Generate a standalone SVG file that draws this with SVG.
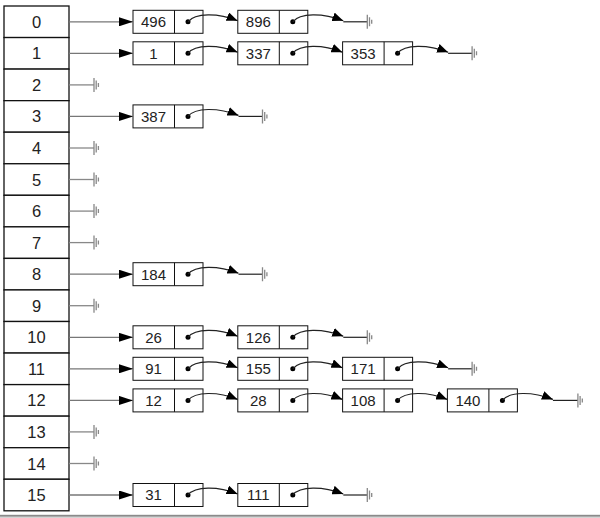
<svg xmlns="http://www.w3.org/2000/svg" xmlns:xlink="http://www.w3.org/1999/xlink" width="600" height="518" viewBox="0 0 600 518">
<style>
.slot rect{fill:#fff;stroke:#111;stroke-width:1.3}
.slot text{font-family:"Liberation Sans",Arial,sans-serif;font-size:16.5px;fill:#222;text-anchor:middle}
.node rect{fill:#fff;stroke:#111;stroke-width:1}
.node line{stroke:#111;stroke-width:1}
.node text{font-family:"Liberation Sans",Arial,sans-serif;font-size:15px;fill:#222;text-anchor:middle}
.node circle{fill:#000}
.head{fill:none;stroke:#777;stroke-width:1.3}
.curve{fill:none;stroke:#222;stroke-width:1.2}
.nul{fill:none;stroke:#222;stroke-width:1.2}
.tnul{fill:none;stroke:#888;stroke-width:1.3}
.gnd{fill:none;stroke:#888;stroke-width:1.3}
</style>
<defs>
<marker id="ah" markerWidth="11" markerHeight="9" refX="11" refY="4.5" orient="auto" markerUnits="userSpaceOnUse"><path d="M0,0L11,4.5L0,9z" fill="#000"/></marker>
<marker id="ahL" markerWidth="14" markerHeight="9" refX="14" refY="4.5" orient="auto" markerUnits="userSpaceOnUse"><path d="M0,0L14,4.5L0,9z" fill="#000"/></marker>
<path id="g" class="gnd" d="M0,-7V7M2.2,-4.5V4.5M4.4,-2V2"/>
</defs>
<rect x="0" y="0" width="600" height="518" fill="#fff"/>
<g id="table">
<g id="slot0" class="slot"><rect x="4" y="6" width="65" height="31.55"/><text x="36.5" y="27.8">0</text></g>
<g id="slot1" class="slot"><rect x="4" y="37.55" width="65" height="31.55"/><text x="36.5" y="59.3">1</text></g>
<g id="slot2" class="slot"><rect x="4" y="69.1" width="65" height="31.55"/><text x="36.5" y="90.9">2</text></g>
<g id="slot3" class="slot"><rect x="4" y="100.65" width="65" height="31.55"/><text x="36.5" y="122.4">3</text></g>
<g id="slot4" class="slot"><rect x="4" y="132.2" width="65" height="31.55"/><text x="36.5" y="154">4</text></g>
<g id="slot5" class="slot"><rect x="4" y="163.75" width="65" height="31.55"/><text x="36.5" y="185.5">5</text></g>
<g id="slot6" class="slot"><rect x="4" y="195.3" width="65" height="31.55"/><text x="36.5" y="217.1">6</text></g>
<g id="slot7" class="slot"><rect x="4" y="226.85" width="65" height="31.55"/><text x="36.5" y="248.6">7</text></g>
<g id="slot8" class="slot"><rect x="4" y="258.4" width="65" height="31.55"/><text x="36.5" y="280.2">8</text></g>
<g id="slot9" class="slot"><rect x="4" y="289.95" width="65" height="31.55"/><text x="36.5" y="311.7">9</text></g>
<g id="slot10" class="slot"><rect x="4" y="321.5" width="65" height="31.55"/><text x="36.5" y="343.3">10</text></g>
<g id="slot11" class="slot"><rect x="4" y="353.05" width="65" height="31.55"/><text x="36.5" y="374.8">11</text></g>
<g id="slot12" class="slot"><rect x="4" y="384.6" width="65" height="31.55"/><text x="36.5" y="406.4">12</text></g>
<g id="slot13" class="slot"><rect x="4" y="416.15" width="65" height="31.55"/><text x="36.5" y="437.9">13</text></g>
<g id="slot14" class="slot"><rect x="4" y="447.7" width="65" height="31.55"/><text x="36.5" y="469.5">14</text></g>
<g id="slot15" class="slot"><rect x="4" y="479.25" width="65" height="31.55"/><text x="36.5" y="501">15</text></g>
</g>
<g id="nodes">
<g id="n0_0" class="node" transform="translate(133,21.8)"><rect x="0" y="-11.5" width="70" height="23"/><line x1="41.5" y1="-11.5" x2="41.5" y2="11.5"/><text x="20.5" y="5.3">496</text><circle cx="55" cy="0" r="2.5"/></g>
<g id="n0_1" class="node" transform="translate(237.8,21.8)"><rect x="0" y="-11.5" width="70" height="23"/><line x1="41.5" y1="-11.5" x2="41.5" y2="11.5"/><text x="20.5" y="5.3">896</text><circle cx="55" cy="0" r="2.5"/></g>
<g id="n1_0" class="node" transform="translate(133,53.3)"><rect x="0" y="-11.5" width="70" height="23"/><line x1="41.5" y1="-11.5" x2="41.5" y2="11.5"/><text x="20.5" y="5.3">1</text><circle cx="55" cy="0" r="2.5"/></g>
<g id="n1_1" class="node" transform="translate(237.8,53.3)"><rect x="0" y="-11.5" width="70" height="23"/><line x1="41.5" y1="-11.5" x2="41.5" y2="11.5"/><text x="20.5" y="5.3">337</text><circle cx="55" cy="0" r="2.5"/></g>
<g id="n1_2" class="node" transform="translate(342.6,53.3)"><rect x="0" y="-11.5" width="70" height="23"/><line x1="41.5" y1="-11.5" x2="41.5" y2="11.5"/><text x="20.5" y="5.3">353</text><circle cx="55" cy="0" r="2.5"/></g>
<g id="n3_0" class="node" transform="translate(133,116.4)"><rect x="0" y="-11.5" width="70" height="23"/><line x1="41.5" y1="-11.5" x2="41.5" y2="11.5"/><text x="20.5" y="5.3">387</text><circle cx="55" cy="0" r="2.5"/></g>
<g id="n8_0" class="node" transform="translate(133,274.2)"><rect x="0" y="-11.5" width="70" height="23"/><line x1="41.5" y1="-11.5" x2="41.5" y2="11.5"/><text x="20.5" y="5.3">184</text><circle cx="55" cy="0" r="2.5"/></g>
<g id="n10_0" class="node" transform="translate(133,337.3)"><rect x="0" y="-11.5" width="70" height="23"/><line x1="41.5" y1="-11.5" x2="41.5" y2="11.5"/><text x="20.5" y="5.3">26</text><circle cx="55" cy="0" r="2.5"/></g>
<g id="n10_1" class="node" transform="translate(237.8,337.3)"><rect x="0" y="-11.5" width="70" height="23"/><line x1="41.5" y1="-11.5" x2="41.5" y2="11.5"/><text x="20.5" y="5.3">126</text><circle cx="55" cy="0" r="2.5"/></g>
<g id="n11_0" class="node" transform="translate(133,368.8)"><rect x="0" y="-11.5" width="70" height="23"/><line x1="41.5" y1="-11.5" x2="41.5" y2="11.5"/><text x="20.5" y="5.3">91</text><circle cx="55" cy="0" r="2.5"/></g>
<g id="n11_1" class="node" transform="translate(237.8,368.8)"><rect x="0" y="-11.5" width="70" height="23"/><line x1="41.5" y1="-11.5" x2="41.5" y2="11.5"/><text x="20.5" y="5.3">155</text><circle cx="55" cy="0" r="2.5"/></g>
<g id="n11_2" class="node" transform="translate(342.6,368.8)"><rect x="0" y="-11.5" width="70" height="23"/><line x1="41.5" y1="-11.5" x2="41.5" y2="11.5"/><text x="20.5" y="5.3">171</text><circle cx="55" cy="0" r="2.5"/></g>
<g id="n12_0" class="node" transform="translate(133,400.4)"><rect x="0" y="-11.5" width="70" height="23"/><line x1="41.5" y1="-11.5" x2="41.5" y2="11.5"/><text x="20.5" y="5.3">12</text><circle cx="55" cy="0" r="2.5"/></g>
<g id="n12_1" class="node" transform="translate(237.8,400.4)"><rect x="0" y="-11.5" width="70" height="23"/><line x1="41.5" y1="-11.5" x2="41.5" y2="11.5"/><text x="20.5" y="5.3">28</text><circle cx="55" cy="0" r="2.5"/></g>
<g id="n12_2" class="node" transform="translate(342.6,400.4)"><rect x="0" y="-11.5" width="70" height="23"/><line x1="41.5" y1="-11.5" x2="41.5" y2="11.5"/><text x="20.5" y="5.3">108</text><circle cx="55" cy="0" r="2.5"/></g>
<g id="n12_3" class="node" transform="translate(447.4,400.4)"><rect x="0" y="-11.5" width="70" height="23"/><line x1="41.5" y1="-11.5" x2="41.5" y2="11.5"/><text x="20.5" y="5.3">140</text><circle cx="55" cy="0" r="2.5"/></g>
<g id="n15_0" class="node" transform="translate(133,495)"><rect x="0" y="-11.5" width="70" height="23"/><line x1="41.5" y1="-11.5" x2="41.5" y2="11.5"/><text x="20.5" y="5.3">31</text><circle cx="55" cy="0" r="2.5"/></g>
<g id="n15_1" class="node" transform="translate(237.8,495)"><rect x="0" y="-11.5" width="70" height="23"/><line x1="41.5" y1="-11.5" x2="41.5" y2="11.5"/><text x="20.5" y="5.3">111</text><circle cx="55" cy="0" r="2.5"/></g>
</g>
<g id="connectors">
<!-- row 0 -->
<path class="head" d="M69,21.8H133" marker-end="url(#ahL)"/>
<path class="curve" d="M188,21.8c7,-9 30,-9 49.6,-1" marker-end="url(#ah)"/>
<path class="curve" d="M292.8,21.8c7,-9 30,-9 50.5,-1" marker-end="url(#ah)"/>
<path class="nul" d="M343.3,21.8h24"/><use xlink:href="#g" x="367.3" y="21.8"/>
<!-- row 1 -->
<path class="head" d="M69,53.3H133" marker-end="url(#ahL)"/>
<path class="curve" d="M188,53.3c7,-9 30,-9 49.6,-1" marker-end="url(#ah)"/>
<path class="curve" d="M292.8,53.3c7,-9 30,-9 49.6,-1" marker-end="url(#ah)"/>
<path class="curve" d="M397.6,53.3c7,-9 30,-9 50.5,-1" marker-end="url(#ah)"/>
<path class="nul" d="M448.1,53.3h24"/><use xlink:href="#g" x="472.1" y="53.3"/>
<!-- row 2 -->
<path class="tnul" d="M69,84.9H94"/><use xlink:href="#g" x="94" y="84.9"/>
<!-- row 3 -->
<path class="head" d="M69,116.4H133" marker-end="url(#ahL)"/>
<path class="curve" d="M188,116.4c7,-9 30,-9 50.5,-1" marker-end="url(#ah)"/>
<path class="nul" d="M238.5,116.4h24"/><use xlink:href="#g" x="262.5" y="116.4"/>
<!-- rows 4-7 -->
<path class="tnul" d="M69,148H94"/><use xlink:href="#g" x="94" y="148"/>
<path class="tnul" d="M69,179.5H94"/><use xlink:href="#g" x="94" y="179.5"/>
<path class="tnul" d="M69,211.1H94"/><use xlink:href="#g" x="94" y="211.1"/>
<path class="tnul" d="M69,242.6H94"/><use xlink:href="#g" x="94" y="242.6"/>
<!-- row 8 -->
<path class="head" d="M69,274.2H133" marker-end="url(#ahL)"/>
<path class="curve" d="M188,274.2c7,-9 30,-9 50.5,-1" marker-end="url(#ah)"/>
<path class="nul" d="M238.5,274.2h24"/><use xlink:href="#g" x="262.5" y="274.2"/>
<!-- row 9 -->
<path class="tnul" d="M69,305.7H94"/><use xlink:href="#g" x="94" y="305.7"/>
<!-- row 10 -->
<path class="head" d="M69,337.3H133" marker-end="url(#ahL)"/>
<path class="curve" d="M188,337.3c7,-9 30,-9 49.6,-1" marker-end="url(#ah)"/>
<path class="curve" d="M292.8,337.3c7,-9 30,-9 50.5,-1" marker-end="url(#ah)"/>
<path class="nul" d="M343.3,337.3h24"/><use xlink:href="#g" x="367.3" y="337.3"/>
<!-- row 11 -->
<path class="head" d="M69,368.8H133" marker-end="url(#ahL)"/>
<path class="curve" d="M188,368.8c7,-9 30,-9 49.6,-1" marker-end="url(#ah)"/>
<path class="curve" d="M292.8,368.8c7,-9 30,-9 49.6,-1" marker-end="url(#ah)"/>
<path class="curve" d="M397.6,368.8c7,-9 30,-9 50.5,-1" marker-end="url(#ah)"/>
<path class="nul" d="M448.1,368.8h24"/><use xlink:href="#g" x="472.1" y="368.8"/>
<!-- row 12 -->
<path class="head" d="M69,400.4H133" marker-end="url(#ahL)"/>
<path class="curve" d="M188,400.4c7,-9 30,-9 49.6,-1" marker-end="url(#ah)"/>
<path class="curve" d="M292.8,400.4c7,-9 30,-9 49.6,-1" marker-end="url(#ah)"/>
<path class="curve" d="M397.6,400.4c7,-9 30,-9 49.6,-1" marker-end="url(#ah)"/>
<path class="curve" d="M502.4,400.4c7,-9 30,-9 50.5,-1" marker-end="url(#ah)"/>
<path class="nul" d="M552.9,400.4h25"/><use xlink:href="#g" x="577.9" y="400.4"/>
<!-- rows 13-14 -->
<path class="tnul" d="M69,431.9H94"/><use xlink:href="#g" x="94" y="431.9"/>
<path class="tnul" d="M69,463.5H94"/><use xlink:href="#g" x="94" y="463.5"/>
<!-- row 15 -->
<path class="head" d="M69,495H133" marker-end="url(#ahL)"/>
<path class="curve" d="M188,495c7,-9 30,-9 49.6,-1" marker-end="url(#ah)"/>
<path class="curve" d="M292.8,495c7,-9 30,-9 50.5,-1" marker-end="url(#ah)"/>
<path class="nul" d="M343.3,495h24"/><use xlink:href="#g" x="367.3" y="495"/>
</g>
<rect x="0" y="514.8" width="600" height="2" fill="#8a8a8a"/>
<rect x="0" y="516.8" width="600" height="1.2" fill="#d4d4d4"/>
</svg>
